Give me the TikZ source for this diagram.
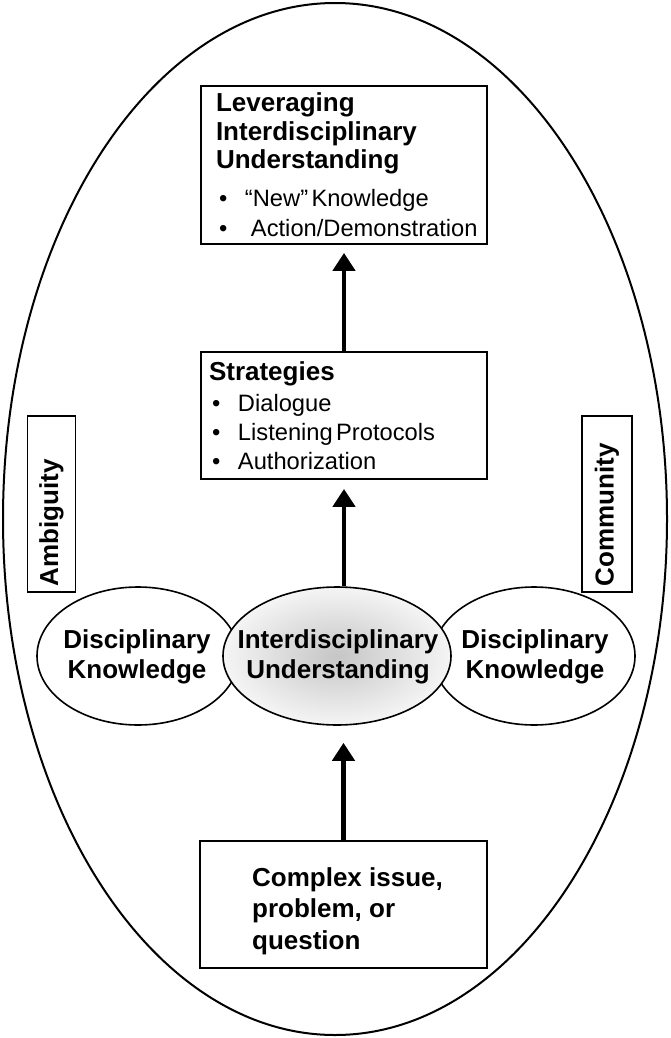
\documentclass[tikz,border=0pt]{standalone}
\usepackage{fontspec}
\setmainfont{Liberation Sans}
\usetikzlibrary{arrows.meta}
\usetikzlibrary{shapes.geometric}

\newcommand{\bitem}[2]{\makebox[#1][l]{\hspace{3pt}\textbullet}#2}

\begin{document}
\begin{tikzpicture}[x=1pt, y=-1pt,
    textbox/.style={draw, line width=1.8pt, rectangle, inner ysep=0pt},
    sidebox/.style={draw, line width=1.8pt, rotate=90, inner xsep=6pt, text width=164pt, align=left, font=\bfseries\fontsize{26}{30}\selectfont},
    blob/.style={draw, ellipse, line width=1.6pt, fill=white, minimum width=202pt, minimum height=138pt},
    blobtext/.style={align=center, font=\bfseries\fontsize{26}{30}\selectfont},
    uparrow/.style={-{Triangle[length=18pt, width=22pt]}, line width=4.5pt}]
    \useasboundingbox (0,0) rectangle (670,1038);

    % outer frame
    \draw[line width=2pt] (335,519) ellipse [x radius=332, y radius=516];

    % Disciplinary knowledge (both sides)
    \foreach \side/\x in {L/138, R/534}
        \node[blob] (disc\side) at (\x,656) {};

    % Interdisciplinary understanding
    \node[blob, minimum width=228pt, shading=radial, inner color=gray!45, outer color=gray!8] (interd) at (337,656) {};
    \foreach \side/\x in {L/137, R/535}
        \node[blobtext] (disc\side text) at (\x,657) {Disciplinary\\Knowledge};
    \node[blobtext] (interdtext) at (338,657) {Interdisciplinary\\Understanding};

    % side labels
    \node[sidebox, minimum height=48pt] (ambig) at (51.5,504) {Ambiguity};
    \node[sidebox, minimum height=50pt] (commun) at (607,504) {Community};

    % boxes
    \node[textbox, align=left, minimum height=158pt, inner xsep=15pt, text width=256pt] (lever) at (344,165) {%
        {\bfseries\fontsize{26}{28.5}\selectfont Leveraging\\Interdisciplinary\\Understanding\par}
        \vspace{8pt}
        {\fontsize{23.7}{30}\selectfont\bitem{29pt}{“New” Knowledge}\\\bitem{35pt}{Action/Demonstration}\par}};
    \node[textbox, align=left, minimum height=127pt, inner xsep=8pt, text width=270pt] (strat) at (344,415.5) {%
        {\bfseries\fontsize{26}{29}\selectfont Strategies\par}
        \vspace{2pt}
        {\fontsize{23.7}{29}\selectfont\bitem{29pt}{Dialogue}\\\bitem{29pt}{Listening Protocols}\\\bitem{29pt}{Authorization}\par}};
    \node[textbox, minimum width=287pt, minimum height=127pt] (issue) at (343.5,904.5) {};
    \node[align=left, font=\bfseries\fontsize{26}{31.5}\selectfont] (issuetext) at (347.5,911) {Complex issue,\\problem, or\\question};

    % arrows
    \draw[uparrow, shorten >=8pt] (strat.north) -- (lever.south);
    \draw[uparrow, shorten >=9pt] (interd.north -| strat.south) -- (strat.south);
    \draw[uparrow, shorten >=17pt] (issue.north) -- (issue.north |- interd.south);
\end{tikzpicture}
\end{document}
